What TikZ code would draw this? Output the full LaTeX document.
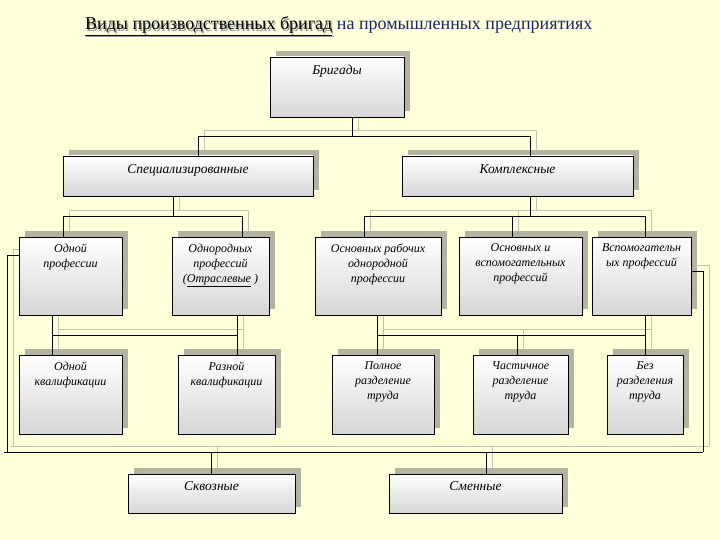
\documentclass[tikz,border=0pt]{standalone}
\usepackage{fontspec}
\setmainfont{Liberation Serif}
\usetikzlibrary{shadows}
\definecolor{bgc}{HTML}{FFFFDA}
\definecolor{shc}{RGB}{180,178,160}
\definecolor{lnsh}{RGB}{195,195,178}
\definecolor{boxbot}{RGB}{214,214,214}
\definecolor{navy}{RGB}{25,40,100}
\pgfdeclarelayer{bg}\pgfdeclarelayer{lines}\pgfsetlayers{bg,lines,main}
\tikzset{
 box/.style={draw=black, line width=0.9pt, top color=white, bottom color=boxbot, inner sep=0pt,
   general shadow={fill=shc, shadow xshift=6pt, shadow yshift=6pt}},
 lbl/.style={align=center, inner sep=0pt, anchor=north, font=\itshape\fontsize{12}{15}\selectfont},
 biglbl/.style={lbl, font=\itshape\fontsize{13.5}{16}\selectfont},
 titlefont/.style={inner sep=0pt, anchor=base west, font=\fontsize{18}{20}\selectfont},
}
\newcommand\connpaths[1]{%
 \draw[#1] (jb |- brig.south) -- (jb);
 \draw[#1] (busA |- spec.north) -- (busA) -- (busB) -- (busB |- komp.north);
 \draw[#1] (js |- spec.south) -- (js);
 \draw[#1] (sA |- odprof.north) -- (sA) -- (sB) -- (sB |- odnor.north);
 \draw[#1] (jk |- komp.south) -- (jk);
 \draw[#1] (kA |- osnrab.north) -- (kA) -- (kC) -- (kC |- vsp.north);
 \draw[#1] (kB) -- (kB |- osnvsp.north);
 \draw[#1] (lA |- odprof.south) -- (lA |- odkv.north);
 \draw[#1] (lB |- odnor.south) -- (lB |- razkv.north);
 \draw[#1] (lA) -- (lB);
 \draw[#1] (rA |- osnrab.south) -- (rA |- poln.north);
 \draw[#1] (rC |- vsp.south) -- (rC |- bez.north);
 \draw[#1] (rA) -- (rC);
 \draw[#1] (rB) -- (rB |- chast.north);
 \draw[#1] (odprof.west |- oL) -- (oL) -- (oLb);
 \draw[#1] (vsp.east |- oR) -- (oR) -- (oRb);
 \draw[#1] (oS) -- (oRb);
 \draw[#1] (q1) -- (q1 |- skv.north);
 \draw[#1] (q2) -- (q2 |- smen.north);
}
\begin{document}
\begin{tikzpicture}[x=1pt,y=-1pt]
\begin{pgfonlayer}{bg}
\fill[bgc] (0,0) rectangle (720,540);
\end{pgfonlayer}
\useasboundingbox (0,0) rectangle (720,540);

% title (with its shadow inside the same node)
\node[titlefont] (title) at (85,30) {\makebox[0pt][l]{\hspace{1.2pt}\raisebox{-1.2pt}{\textcolor{black!40}{\underline{Виды производственных бригад}}}}\underline{Виды производственных бригад}\ \textcolor{navy}{на промышленных предприятиях}};

% boxes
\node[box, minimum width=134pt, minimum height=60pt] (brig) at (337,87) {};
\node[box, minimum width=250pt, minimum height=40pt] (spec) at (188,176) {};
\node[box, minimum width=231pt, minimum height=40pt] (komp) at (517.5,176) {};
\node[box, minimum width=103pt, minimum height=78pt] (odprof) at (70.5,276) {};
\node[box, minimum width=97pt, minimum height=78pt] (odnor) at (220.5,276) {};
\node[box, minimum width=126pt, minimum height=78pt] (osnrab) at (378,276) {};
\node[box, minimum width=123pt, minimum height=78pt] (osnvsp) at (520.5,276) {};
\node[box, minimum width=99pt, minimum height=78pt] (vsp) at (641.5,276) {};
\node[box, minimum width=103pt, minimum height=79pt] (odkv) at (70.5,394.5) {};
\node[box, minimum width=97pt, minimum height=79pt] (razkv) at (226.5,394.5) {};
\node[box, minimum width=102pt, minimum height=79pt] (poln) at (383,394.5) {};
\node[box, minimum width=95pt, minimum height=79pt] (chast) at (520.5,394.5) {};
\node[box, minimum width=76pt, minimum height=79pt] (bez) at (645,394.5) {};
\node[box, minimum width=167pt, minimum height=39pt] (skv) at (211.5,493.5) {};
\node[box, minimum width=173pt, minimum height=39pt] (smen) at (475.5,493.5) {};

% labels
\node[biglbl] (tbrig) at ([yshift=-8pt]brig.north) {Бригады};
\node[biglbl] (tspec) at ([yshift=-9pt]spec.north) {Специализированные};
\node[biglbl] (tkomp) at ([yshift=-9pt]komp.north) {Комплексные};
\node[lbl] (todprof) at ([yshift=-7pt]odprof.north) {Одной\\профессии};
\node[lbl] (todnor) at ([yshift=-7pt]odnor.north) {Однородных\\профессий\\(\underline{Отраслевые} )};
\node[lbl] (tosnrab) at ([yshift=-7pt]osnrab.north) {Основных рабочих\\однородной\\профессии};
\node[lbl] (tosnvsp) at ([yshift=-7pt]osnvsp.north) {Основных и\\вспомогательных\\профессий};
\node[lbl] (tvsp) at ([yshift=-7pt]vsp.north) {Вспомогательн\\ых профессий};
\node[lbl] (todkv) at ([yshift=-7pt]odkv.north) {Одной\\квалификации};
\node[lbl] (trazkv) at ([yshift=-7pt]razkv.north) {Разной\\квалификации};
\node[lbl] (tpoln) at ([yshift=-7pt]poln.north) {Полное\\разделение\\труда};
\node[lbl] (tchast) at ([yshift=-7pt]chast.north) {Частичное\\разделение\\труда};
\node[lbl] (tbez) at ([yshift=-7pt]bez.north) {Без\\разделения\\труда};
\node[biglbl] (tskv) at ([yshift=-8pt]skv.north) {Сквозные};
\node[biglbl] (tsmen) at ([yshift=-8pt]smen.north) {Сменные};

% junction coordinates
\coordinate (jb) at (352,136);
\coordinate (busA) at (198,136);
\coordinate (busB) at (530,136);
\coordinate (js) at (173,216);
\coordinate (sA) at (63,216);
\coordinate (sB) at (242,216);
\coordinate (jk) at (530,216);
\coordinate (kA) at (364,216);
\coordinate (kB) at (512,216);
\coordinate (kC) at (645,216);
\coordinate (lA) at (52,335);
\coordinate (lB) at (237,335);
\coordinate (rA) at (377,335);
\coordinate (rB) at (517,335);
\coordinate (rC) at (645,335);
\coordinate (oL) at (7,255);
\coordinate (oLb) at (7,452);
\coordinate (oR) at (703,271);
\coordinate (oRb) at (703,452);
\coordinate (oS) at (4,452);
\coordinate (q1) at (211,452);
\coordinate (q2) at (486,452);

\begin{pgfonlayer}{lines}
\begin{scope}[transform canvas={xshift=6pt,yshift=6pt}]
\connpaths{lnsh, line width=0.9pt}
\end{scope}
\end{pgfonlayer}
\connpaths{black, line width=0.9pt}
\end{tikzpicture}
\end{document}
